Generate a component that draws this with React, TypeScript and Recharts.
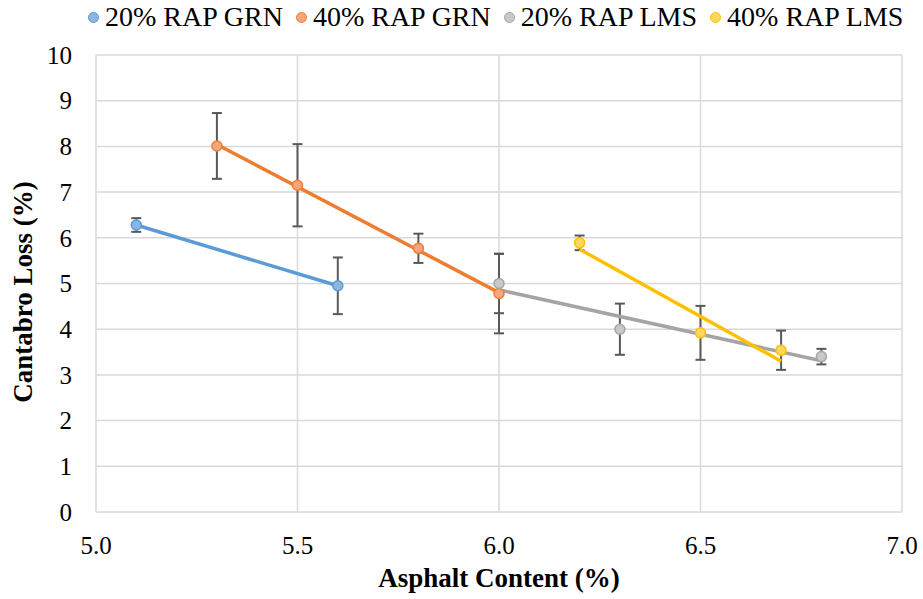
import React from 'react'
import { ComposedChart, Scatter, XAxis, YAxis, CartesianGrid, ErrorBar, Label } from 'recharts'

// measured points (x = asphalt content, y = cantabro loss, err = +/- bar)
const grn20X = [5.1, 5.6]
const grn20Y = [6.28, 4.95]
const grn20Err = [0.15, 0.62]

const grn40X = [5.3, 5.5, 5.8, 6.0]
const grn40Y = [8.01, 7.15, 5.77, 4.78]
const grn40Err = [0.72, 0.9, 0.32, 0.87]

const lms20X = [6.0, 6.3, 6.8]
const lms20Y = [5.0, 4.0, 3.4]
const lms20Err = [0.65, 0.56, 0.17]

const lms40X = [6.2, 6.5, 6.7]
const lms40Y = [5.89, 3.92, 3.54]
const lms40Err = [0.16, 0.59, 0.43]

// trendline end points
const grn20TrendX = [5.1, 5.6]
const grn20TrendY = [6.28, 4.95]
const grn40TrendX = [5.3, 6.0]
const grn40TrendY = [8.04, 4.8]
const lms20TrendX = [6.0, 6.8]
const lms20TrendY = [4.86, 3.31]
const lms40TrendX = [6.2, 6.7]
const lms40TrendY = [5.75, 3.3]

const xTicks = [5.0, 5.5, 6.0, 6.5, 7.0]
const yTicks = [0, 1, 2, 3, 4, 5, 6, 7, 8, 9, 10]

const SERIES = [
  { name: '20% RAP GRN', stroke: '#5B9BD5', fill: '#8DB5E2', x: grn20X, y: grn20Y, err: grn20Err, tx: grn20TrendX, ty: grn20TrendY },
  { name: '40% RAP GRN', stroke: '#ED7D31', fill: '#F4A77A', x: grn40X, y: grn40Y, err: grn40Err, tx: grn40TrendX, ty: grn40TrendY },
  { name: '20% RAP LMS', stroke: '#A5A5A5', fill: '#C8C8C8', x: lms20X, y: lms20Y, err: lms20Err, tx: lms20TrendX, ty: lms20TrendY },
  { name: '40% RAP LMS', stroke: '#FFC000', fill: '#FFD75E', x: lms40X, y: lms40Y, err: lms40Err, tx: lms40TrendX, ty: lms40TrendY },
]

const FONT = 'Liberation Serif, Tinos, Times New Roman, Times, DejaVu Serif, serif'

const pts = (xs: number[], ys: number[], es?: number[]) =>
  xs.map((x, i) => ({ x, y: ys[i], err: es ? es[i] : 0 }))

function XTick({ x, y, payload }: any) {
  return (
    <text x={x} y={y + 42} textAnchor="middle" style={{ fontFamily: FONT }} fontSize={25} fill="#000">
      {Number(payload.value).toFixed(1)}
    </text>
  )
}

function YTick({ x, y, payload }: any) {
  return (
    <text x={x - 24} y={y} dy="0.35em" textAnchor="end" style={{ fontFamily: FONT }} fontSize={25} fill="#000">
      {payload.value}
    </text>
  )
}

function Dot({ cx, cy, fill, stroke }: any) {
  return <circle cx={cx} cy={cy} r={5} fill={fill} stroke={stroke} strokeWidth={1.5} />
}

function NoDot() {
  return <g />
}

function LegendRow() {
  return (
    <div style={{
      position: 'absolute', left: 88, top: 0, height: 34, display: 'flex', alignItems: 'center',
      fontFamily: FONT, fontSize: 28, color: '#000', whiteSpace: 'nowrap',
    }}>
      {SERIES.map((s) => (
        <div key={s.name} style={{ display: 'flex', alignItems: 'center', marginRight: 13 }}>
          <span style={{
            display: 'inline-block', width: 9, height: 9, borderRadius: '50%',
            background: s.fill, border: `1px solid ${s.stroke}`, marginRight: 6,
          }} />
          <span>{s.name}</span>
        </div>
      ))}
    </div>
  )
}

export default function App() {
  return (
    <div style={{ position: 'absolute', left: 0, top: 0, width: 923, height: 599, background: '#fff', fontFamily: FONT }}>
      <ComposedChart width={923} height={599} margin={{ top: 55, right: 21, bottom: 0, left: 0 }}>
        <CartesianGrid stroke="#D9D9D9" strokeWidth={1.5} />
        <XAxis type="number" dataKey="x" domain={[5, 7]} ticks={xTicks} height={87}
          axisLine={false} tickLine={false} tickSize={0} tickMargin={0} tick={<XTick />} interval={0}>
          <Label value="Asphalt Content (%)" position="insideBottom" offset={12}
            style={{ fontFamily: FONT, fontSize: 27, fontWeight: 'bold', fill: '#000' }} />
        </XAxis>
        <YAxis type="number" dataKey="y" domain={[0, 10]} ticks={yTicks} width={96}
          axisLine={false} tickLine={false} tickSize={0} tickMargin={0} tick={<YTick />} interval={0}>
          <Label content={() => (
            <text x={32} y={292} transform="rotate(-90 32 292)" textAnchor="middle"
              style={{ fontFamily: FONT }} fontSize={27} fontWeight="bold" fill="#000">
              Cantabro Loss (%)
            </text>
          )} />
        </YAxis>
        {SERIES.map((s) => (
          <Scatter key={s.name + '-trend'} data={pts(s.tx, s.ty)} line={{ stroke: s.stroke, strokeWidth: 3.5 }}
            shape={<NoDot />} isAnimationActive={false} legendType="none" />
        ))}
        {SERIES.map((s) => (
          <Scatter key={s.name} name={s.name} data={pts(s.x, s.y, s.err)} fill={s.fill}
            shape={<Dot fill={s.fill} stroke={s.stroke} />} isAnimationActive={false}>
            <ErrorBar dataKey="err" direction="y" width={5} stroke="#595959" strokeWidth={2} />
          </Scatter>
        ))}
      </ComposedChart>
      <LegendRow />
    </div>
  )
}
